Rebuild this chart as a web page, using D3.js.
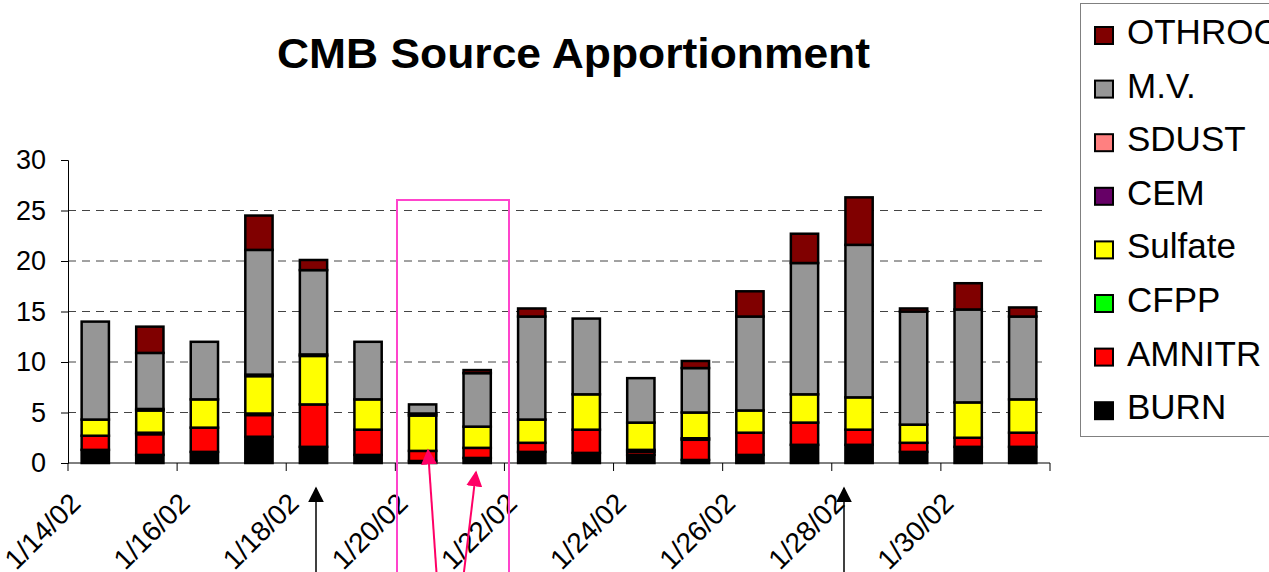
<!DOCTYPE html>
<html>
<head>
<meta charset="utf-8">
<script src="https://cdn.jsdelivr.net/npm/d3@7"></script>
<style>
  body { margin: 0; background: #fff; }
  #canvas { width: 1269px; height: 572px; overflow: hidden; }
  text { font-family: "Liberation Sans", Arial, sans-serif; }
</style>
</head>
<body>
<div id="canvas"></div>
<script>
// categories (sample dates) and stacked sources, bottom -> top
const dates = ["1/14/02","1/15/02","1/16/02","1/17/02","1/18/02","1/19/02","1/20/02","1/21/02","1/22/02",
               "1/23/02","1/24/02","1/25/02","1/26/02","1/27/02","1/28/02","1/29/02","1/30/02","1/31/02"];
const sources = ["BURN","AMNITR","CFPP","Sulfate","CEM","SDUST","M.V.","OTHROC"];

const BURN    = [1.3,0.8,1.1,2.6,1.6,0.8,0.2,0.5,1.1,1.0,0.8,0.3,0.8,1.8,1.8,1.1,1.6,1.6];
const AMNITR  = [1.4,2.05,2.4,2.15,4.2,2.5,1.0,1.0,0.9,2.3,0.3,2.0,2.2,2.2,1.5,0.9,0.9,1.4];
const CFPP    = [0,0.15,0,0.15,0,0,0,0,0,0,0.2,0.15,0,0,0,0,0,0];
const Sulfate = [1.6,2.2,2.8,3.7,4.8,3.0,3.5,2.1,2.3,3.5,2.7,2.55,2.2,2.8,3.2,1.8,3.5,3.3];
const CEM     = [0,0.15,0,0.15,0.15,0,0.2,0,0,0,0,0,0,0,0,0,0,0];
const SDUST   = [0,0,0,0,0,0,0,0,0,0,0,0,0,0,0,0,0,0];
const MV      = [9.7,5.55,5.7,12.35,8.35,5.7,0.9,5.3,10.2,7.5,4.4,4.4,9.3,13.0,15.1,11.2,9.2,8.2];
const OTHROC  = [0,2.6,0,3.4,1.0,0,0,0.3,0.8,0,0,0.7,2.5,2.9,4.7,0.3,2.6,0.9];

const yTicks = [0,5,10,15,20,25,30];
const legendOrder = ["OTHROC","M.V.","SDUST","CEM","Sulfate","CFPP","AMNITR","BURN"];
const colors = {
  "BURN":"#000000","AMNITR":"#ff0000","CFPP":"#00ff00","Sulfate":"#ffff00",
  "CEM":"#660066","SDUST":"#ff8080","M.V.":"#969696","OTHROC":"#800000"
};

const table = dates.map((d, i) => ({
  date: d, "BURN": BURN[i], "AMNITR": AMNITR[i], "CFPP": CFPP[i], "Sulfate": Sulfate[i],
  "CEM": CEM[i], "SDUST": SDUST[i], "M.V.": MV[i], "OTHROC": OTHROC[i]
}));

const width = 1269, height = 572;
const plotLeft = 68, plotRight = 1050, plotTop = 160, plotBottom = 463;

const svg = d3.select("#canvas").append("svg")
  .attr("width", width).attr("height", height);

// title
svg.append("text")
  .attr("x", 277).attr("y", 68)
  .attr("textLength", 593).attr("lengthAdjust", "spacingAndGlyphs")
  .style("font-size", "42px").style("font-weight", "bold")
  .text("CMB Source Apportionment");

const x = d3.scaleBand().domain(dates).range([plotLeft, plotRight])
  .paddingInner(0.5).paddingOuter(0.25);
const y = d3.scaleLinear().domain([0, 30]).range([plotBottom, plotTop]);

// dashed gridlines
svg.append("g").selectAll("line")
  .data(yTicks.filter(t => t > 0 && t < 30))
  .enter().append("line")
  .attr("x1", plotLeft).attr("x2", plotRight - 7)
  .attr("y1", d => y(d)).attr("y2", d => y(d))
  .attr("stroke", "#444").attr("stroke-width", 1)
  .attr("stroke-dasharray", "8,6");

// stacked bars
const series = d3.stack().keys(sources)(table);
svg.append("g").selectAll("g")
  .data(series).enter().append("g")
  .attr("fill", d => colors[d.key])
  .selectAll("rect")
  .data(d => d.filter(p => p[1] - p[0] > 0))
  .enter().append("rect")
  .attr("x", d => x(d.data.date))
  .attr("y", d => y(d[1]))
  .attr("width", x.bandwidth())
  .attr("height", d => y(d[0]) - y(d[1]))
  .attr("stroke", "#000").attr("stroke-width", 2.5);

// y axis
const yAxis = svg.append("g")
  .attr("transform", `translate(${plotLeft},0)`)
  .call(d3.axisLeft(y).tickValues(yTicks).tickSize(7).tickPadding(15));
yAxis.select(".domain").attr("stroke", "#000");
yAxis.selectAll("text").style("font-size", "27px").attr("fill", "#000")
  .style("font-family", "'Liberation Sans', Arial, sans-serif");

// x axis with tick marks every 2 categories
const gap = (x.step() - x.bandwidth()) / 2;
const xg = svg.append("g");
xg.append("line").attr("x1", plotLeft).attr("x2", plotRight)
  .attr("y1", plotBottom).attr("y2", plotBottom).attr("stroke", "#000");
const tickPos = dates.filter((d, i) => i % 2 === 0).map(d => x(d) - gap).concat([plotRight]);
xg.selectAll("line.tick").data(tickPos).enter().append("line")
  .attr("class", "tick")
  .attr("x1", d => d).attr("x2", d => d)
  .attr("y1", plotBottom).attr("y2", plotBottom + 8).attr("stroke", "#000");
xg.selectAll("text").data(dates.filter((d, i) => i % 2 === 0)).enter().append("text")
  .attr("transform", d => `translate(${x(d) + x.bandwidth() / 2 - 13},${plotBottom + 42}) rotate(-45)`)
  .attr("text-anchor", "end")
  .style("font-size", "28px")
  .text(d => d);

// legend
const lg = svg.append("g");
lg.append("rect").attr("x", 1080.5).attr("y", 3.5).attr("width", 200).attr("height", 433)
  .attr("fill", "#fff").attr("stroke", "#808080");
const rows = lg.selectAll("g.item").data(legendOrder).enter().append("g")
  .attr("class", "item")
  .attr("transform", (d, i) => `translate(1095,${44 + i * 53.6})`);
rows.append("rect").attr("x", 0).attr("y", -17).attr("width", 18).attr("height", 17)
  .attr("fill", d => colors[d]).attr("stroke", "#000").attr("stroke-width", 2);
rows.append("text").attr("x", 32).attr("y", 0)
  .style("font-size", "35px").text(d => d);

// annotations: highlight box and arrows
const defs = svg.append("defs");
[["pinkHead", "#ff0066"], ["blackHead", "#000"]].forEach(([id, c]) => {
  defs.append("marker").attr("id", id).attr("viewBox", "0 0 10 10")
    .attr("refX", 9).attr("refY", 5)
    .attr("orient", "auto").attr("markerUnits", "userSpaceOnUse")
    .attr("markerWidth", 16).attr("markerHeight", 16)
    .append("path").attr("d", "M0,0L10,5L0,10Z").attr("fill", c);
});
const ann = svg.append("g");
ann.append("rect").attr("x", 397).attr("y", 200).attr("width", 112).attr("height", 400)
  .attr("fill", "none").attr("stroke", "#ff44cc").attr("stroke-width", 2);
[[437, 580, 428, 450], [463, 580, 476, 472]].forEach(a => {
  ann.append("line").attr("x1", a[0]).attr("y1", a[1]).attr("x2", a[2]).attr("y2", a[3])
    .attr("stroke", "#ff0066").attr("stroke-width", 2).attr("marker-end", "url(#pinkHead)");
});
[[316, 488], [844, 488]].forEach(a => {
  ann.append("line").attr("x1", a[0]).attr("y1", 580).attr("x2", a[0]).attr("y2", a[1])
    .attr("stroke", "#000").attr("stroke-width", 1.5).attr("marker-end", "url(#blackHead)");
});
</script>
</body>
</html>
